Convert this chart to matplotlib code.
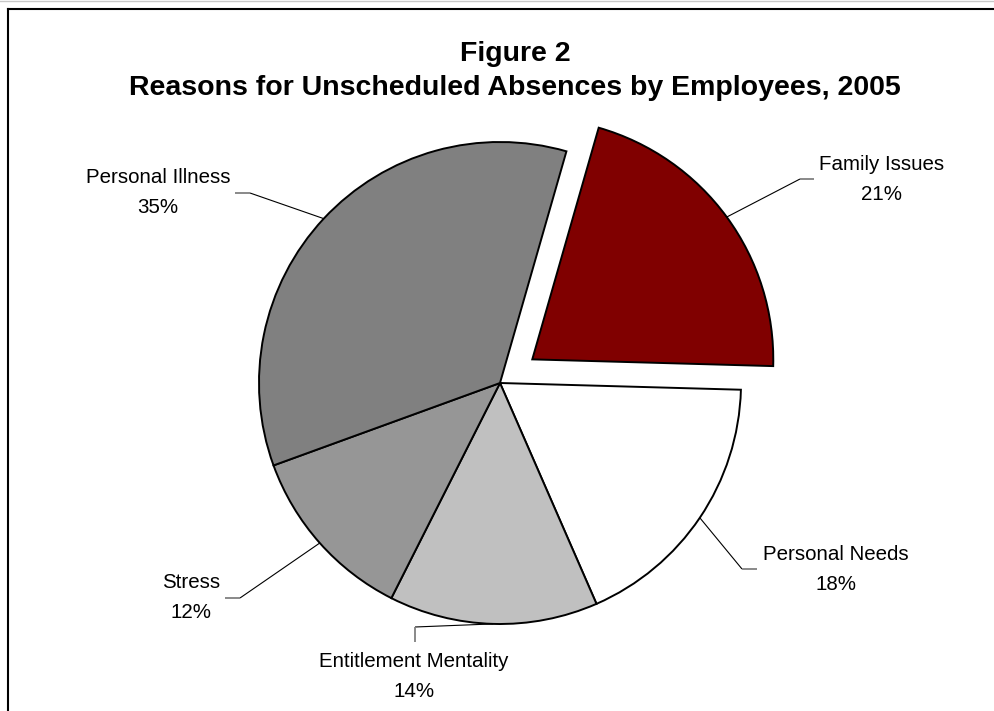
import math
import matplotlib
matplotlib.use("Agg")
import matplotlib.pyplot as plt
from matplotlib.lines import Line2D

# Survey shares (percent), in clockwise order from the exploded slice
categories = ["Family Issues", "Personal Needs", "Entitlement Mentality", "Stress", "Personal Illness"]
shares = [21, 18, 14, 12, 35]
slice_colors = ["#800000", "#FFFFFF", "#C0C0C0", "#969696", "#808080"]
explode = [0.166, 0, 0, 0, 0]

title_line1 = "Figure 2"
title_line2 = "Reasons for Unscheduled Absences by Employees, 2005"

# Layout in figure pixels (995 x 711); pie centre and radius in pixels
W, H = 995, 711
CX, CY, R = 500, 383, 241

# label centre x, first-line baseline y, leader elbow, leader end
label_layout = {
    "Family Issues": ((882, 170), (800, 179), (814, 179)),
    "Personal Needs": ((836, 560), (742, 569), (757, 569)),
    "Entitlement Mentality": ((414, 667), (415, 627), (415, 642)),
    "Stress": ((191, 588), (240, 598), (225, 598)),
    "Personal Illness": ((158, 183), (250, 193), (235, 193)),
}


def px(x, y):
    """Convert figure pixel coordinates to pie data units."""
    return (x - CX) / R, (CY - y) / R


plt.rcParams["font.family"] = ["Liberation Sans", "DejaVu Sans"]

fig = plt.figure(figsize=(W / 100, H / 100), dpi=100)
ax = fig.add_axes([0, 0, 1, 1])

wedges, _ = ax.pie(
    shares,
    colors=slice_colors,
    explode=explode,
    startangle=74,
    counterclock=False,
    radius=1.0,
    wedgeprops=dict(edgecolor="black", linewidth=1.4),
)

ax.set_aspect("equal")
x0, y0 = px(0, H)
x1, y1 = px(W, 0)
ax.set_xlim(x0, x1)
ax.set_ylim(y0, y1)
ax.axis("off")

label_fs = 14.8
line_gap = 30  # pixels between label baselines

for wedge, name, value in zip(wedges, categories, shares):
    (lx, ly), elbow, end = label_layout[name]
    mid = math.radians((wedge.theta1 + wedge.theta2) / 2)
    cx, cy = wedge.center
    ax_x = cx + wedge.r * math.cos(mid)
    ax_y = cy + wedge.r * math.sin(mid)
    ex, ey = px(*elbow)
    nx, ny = px(*end)
    ax.plot([ax_x, ex], [ax_y, ey], color="black", lw=0.8, solid_capstyle="butt")
    ax.plot([ex, nx], [ey, ny], color="#808080", lw=1.3, solid_capstyle="butt")
    tx, ty = px(lx, ly)
    ax.text(tx, ty, name, ha="center", va="baseline", fontsize=label_fs, color="black")
    tx2, ty2 = px(lx, ly + line_gap)
    ax.text(tx2, ty2, f"{value}%", ha="center", va="baseline", fontsize=label_fs, color="black")

# Two-line bold title
t1x, t1y = px(515, 61)
t2x, t2y = px(515, 95)
ax.text(t1x, t1y, title_line1, ha="center", va="baseline", fontsize=20.5, fontweight="bold")
ax.text(t2x, t2y, title_line2, ha="center", va="baseline", fontsize=20.5, fontweight="bold")

# Chart area frame (left and top edges)
fig.add_artist(Line2D([8 / W, 8 / W], [0, 1 - 9 / H], color="black", lw=1.5,
                      transform=fig.transFigure, solid_capstyle="projecting"))
fig.add_artist(Line2D([8 / W, 1], [1 - 9 / H, 1 - 9 / H], color="black", lw=1.5,
                      transform=fig.transFigure, solid_capstyle="projecting"))
fig.add_artist(Line2D([0, 1], [1 - 0.5 / H, 1 - 0.5 / H], color="#c8c8c8", lw=1.0,
                      transform=fig.transFigure))

fig.savefig("out.png", dpi=100, facecolor="white")
